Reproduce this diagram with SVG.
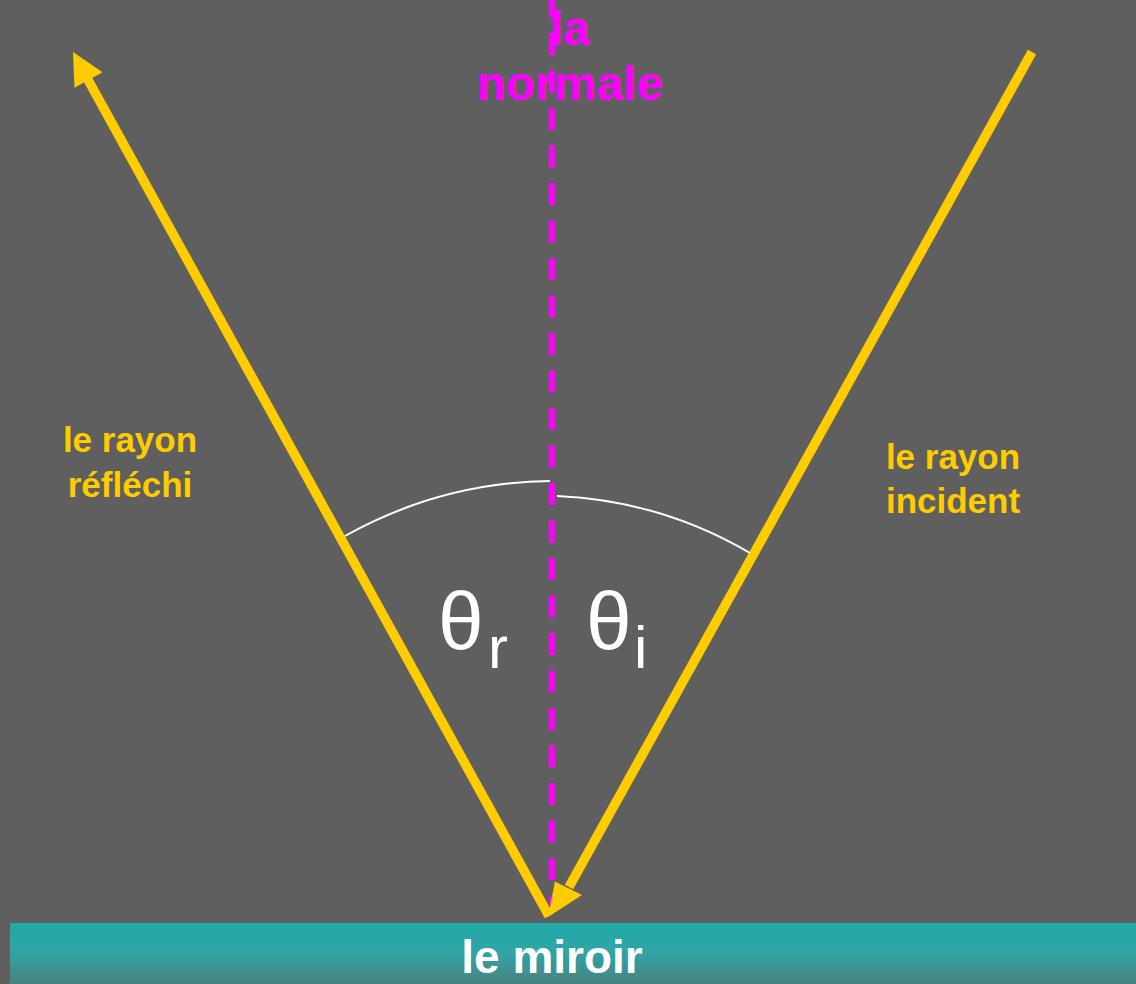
<svg xmlns="http://www.w3.org/2000/svg" width="1136" height="984" viewBox="0 0 1136 984">
<defs>
<linearGradient id="mirrorGrad" x1="0" y1="0" x2="0" y2="1">
<stop offset="0" stop-color="#20a9a9"/>
<stop offset="0.45" stop-color="#2ea6a6"/>
<stop offset="1" stop-color="#4a8282"/>
</linearGradient>
<style>
.ray{stroke:#ffcc00;stroke-width:9.5;fill:none;}
.head{fill:#ffcc00;}
.arc{stroke:#ffffff;stroke-width:2;fill:none;}
.lbl{font-family:"Liberation Sans",Arial,sans-serif;font-weight:bold;fill:#ffcc00;font-size:35px;text-anchor:middle;}
.theta{font-family:"Liberation Sans",Arial,sans-serif;fill:#ffffff;}
</style>
</defs>
<rect x="0" y="0" width="1136" height="984" fill="#5f5f5f"/>
<g id="mirror">
<rect x="10" y="923" width="1126" height="61" fill="url(#mirrorGrad)"/>
<text x="552" y="973" font-family="Liberation Sans, Arial, sans-serif" font-weight="bold" font-size="46" fill="#ffffff" text-anchor="middle">le miroir</text>
</g>
<g id="connectors">
<line id="normal-line" x1="552" y1="-4.5" x2="552" y2="905" stroke="#ff00ff" stroke-width="6" stroke-dasharray="22 15.5"/>
<g id="reflected-ray">
<line class="ray" x1="549" y1="916" x2="87" y2="78"/>
<polygon class="head" points="73,52 102.5,72.3 74.5,87.7"/>
</g>
<g id="incident-ray">
<line class="ray" x1="1032" y1="52" x2="569" y2="887"/>
<polygon class="head" points="548,917 555,881.5 582,895"/>
</g>
<path id="arc-r" class="arc" d="M345,536 A433,433 0 0 1 550,481"/>
<path id="arc-i" class="arc" d="M557,496 A417,417 0 0 1 750,553"/>
</g>
<g id="normal-label">
<text font-family="Liberation Sans, Arial, sans-serif" font-weight="bold" font-size="48" fill="#ff00ff" text-anchor="middle"><tspan x="570" y="45">la</tspan><tspan x="570" y="100">normale</tspan></text>
</g>
<g id="reflected-label">
<text class="lbl"><tspan x="130" y="452">le rayon</tspan><tspan x="130" y="497">réfléchi</tspan></text>
</g>
<g id="incident-label">
<text class="lbl"><tspan x="953" y="469">le rayon</tspan><tspan x="953" y="513">incident</tspan></text>
</g>
<g id="theta-r">
<text class="theta" x="438" y="649" font-size="82">θ</text>
<text class="theta" x="488" y="668" font-size="60">r</text>
</g>
<g id="theta-i">
<text class="theta" x="586" y="649" font-size="82">θ</text>
<text class="theta" x="634" y="668" font-size="60">i</text>
</g>
</svg>
